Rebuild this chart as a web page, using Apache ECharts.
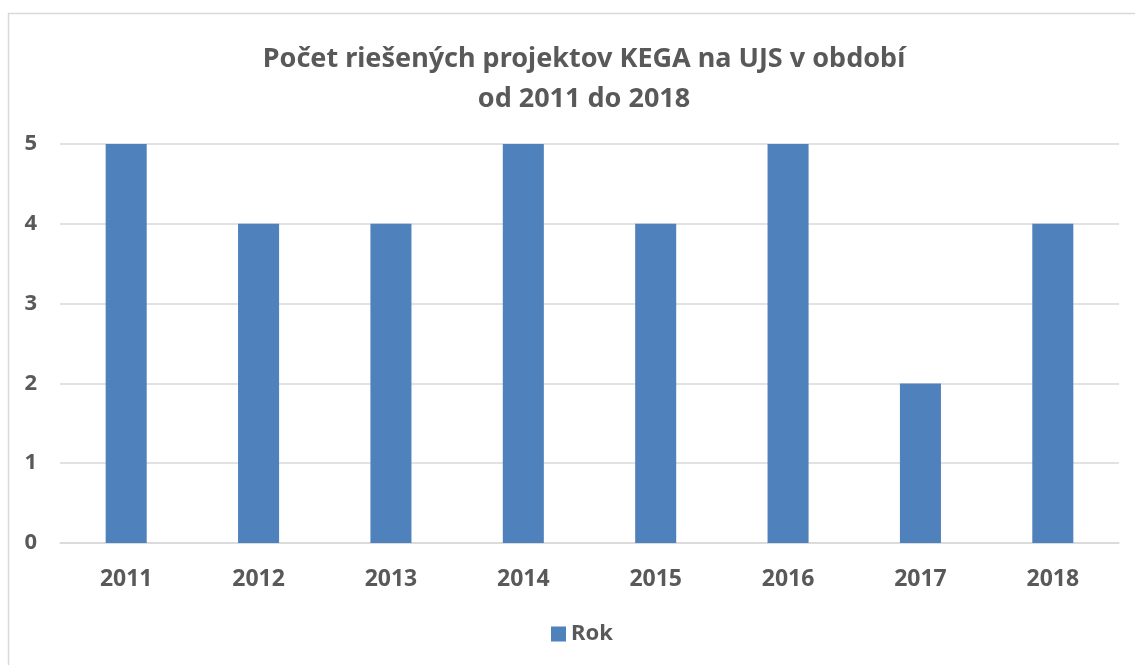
<!DOCTYPE html>
<html>
<head>
<meta charset="utf-8">
<script src="https://cdn.jsdelivr.net/npm/echarts@6/dist/echarts.min.js"></script>
<style>
  html, body { margin: 0; padding: 0; background: #fff; }
  #chart { width: 1135px; height: 665px; }
</style>
</head>
<body>
<div id="chart"></div>
<script>
const years = ["2011", "2012", "2013", "2014", "2015", "2016", "2017", "2018"]
const projects = [5, 4, 4, 5, 4, 5, 2, 4]
const titleLines = ["Počet riešených projektov KEGA na UJS v období", "od 2011 do 2018"]

const font = "'Noto Sans', 'DejaVu Sans', sans-serif"
const textColor = "#595959"

const chart = echarts.init(document.getElementById("chart"))

chart.setOption({
  backgroundColor: "#fff",
  animation: false,
  graphic: [
    {
      type: "rect",
      shape: { x: 8.5, y: 13.5, width: 1200, height: 700 },
      style: { fill: "none", stroke: "#d9d9d9", lineWidth: 1.5 },
      silent: true
    }
  ],
  title: {
    text: titleLines.join("\n"),
    // centred over the plot area rather than the page
    left: 579,
    textAlign: "center",
    top: 34,
    textStyle: {
      fontFamily: font,
      fontWeight: "bold",
      fontSize: 27,
      lineHeight: 40,
      color: textColor
    }
  },
  legend: {
    bottom: 15,
    left: 546,
    itemWidth: 15,
    itemHeight: 15,
    itemGap: 7,
    icon: "rect",
    textStyle: {
      fontFamily: font,
      fontWeight: "bold",
      fontSize: 22,
      color: textColor
    }
  },
  grid: {
    left: 60,
    right: 16,
    top: 144,
    bottom: 122
  },
  xAxis: {
    type: "category",
    data: years,
    axisLine: { show: true, lineStyle: { color: "#d9d9d9", width: 1.5 } },
    axisTick: { show: false },
    axisLabel: {
      margin: 25,
      fontFamily: font,
      fontWeight: "bold",
      fontSize: 23,
      color: textColor
    }
  },
  yAxis: {
    type: "value",
    min: 0,
    max: 5,
    interval: 1,
    axisLine: { show: false },
    axisTick: { show: false },
    splitLine: { lineStyle: { color: "#d9d9d9", width: 1.5 } },
    axisLabel: {
      margin: 23,
      fontFamily: font,
      fontWeight: "bold",
      fontSize: 22,
      color: textColor
    }
  },
  series: [
    {
      name: "Rok",
      type: "bar",
      data: projects,
      barWidth: "31%",
      itemStyle: { color: "#4f81bd" }
    }
  ]
})
</script>
</body>
</html>
